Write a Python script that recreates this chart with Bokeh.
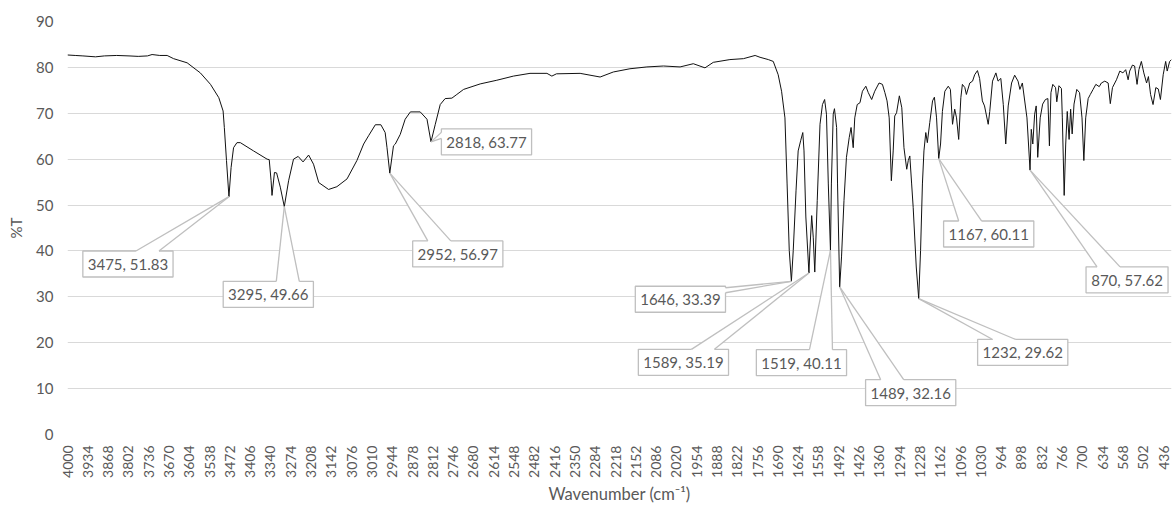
from bokeh.plotting import figure
from bokeh.models import Range1d, FixedTicker
from bokeh.core.properties import value
from bokeh.embed import file_html
from bokeh.resources import INLINE

# ---------------- data ----------------
wavenumber = [4000, 3975, 3950, 3909, 3880, 3840, 3800, 3770, 3740, 3725, 3700, 3676,
              3655, 3611, 3568, 3535, 3508, 3494, 3490, 3483, 3475, 3468, 3460, 3449, 3438,
              3395, 3351, 3344, 3338, 3335, 3327, 3320, 3308, 3295, 3281, 3265, 3250, 3234,
              3216, 3200, 3183, 3151, 3124, 3091, 3059, 3037, 3021, 2999, 2981, 2967, 2961,
              2952, 2940, 2934, 2918, 2902, 2885, 2853, 2831, 2818, 2804, 2788, 2772, 2750,
              2734, 2712, 2658, 2604, 2550, 2496, 2441, 2425, 2410, 2333, 2268, 2225, 2171,
              2116, 2062, 2008, 1965, 1927, 1900, 1846, 1802, 1764, 1748, 1721, 1705, 1689,
              1678, 1667, 1660, 1653, 1646, 1640, 1631, 1624, 1616, 1609, 1605, 1599, 1589,
              1586, 1580, 1575, 1570, 1562, 1553, 1545, 1538, 1532, 1526, 1519, 1516, 1510,
              1506, 1499, 1496, 1489, 1483, 1475, 1467, 1458, 1452, 1445, 1440, 1432, 1423,
              1415, 1404, 1396, 1385, 1375, 1361, 1350, 1342, 1335, 1328, 1321, 1315, 1310,
              1304, 1295, 1287, 1280, 1271, 1266, 1261, 1255, 1250, 1240, 1232, 1226, 1220,
              1215, 1209, 1204, 1196, 1187, 1181, 1174, 1167, 1161, 1155, 1147, 1136, 1129,
              1122, 1115, 1109, 1102, 1095, 1090, 1082, 1077, 1066, 1057, 1050, 1041, 1034,
              1025, 1018, 1006, 1001, 992, 981, 974, 965, 957, 949, 941, 930, 920, 909, 903,
              895, 880, 870, 866, 861, 855, 850, 845, 837, 829, 820, 812, 807, 802, 796, 787,
              783, 776, 768, 765, 759, 754, 749, 743, 738, 733, 727, 718, 709, 701, 695, 689,
              681, 674, 665, 656, 645, 638, 627, 616, 609, 602, 589, 578, 568, 559, 551, 546,
              537, 530, 522, 516, 508, 500, 491, 485, 478, 470, 461, 453, 446, 437, 429, 424,
              416, 410]
transmittance = [82.7, 82.6, 82.5, 82.3, 82.5, 82.6, 82.5, 82.4, 82.5, 82.8, 82.6, 82.6,
                 81.9, 81.0, 78.8, 76.3, 73.4, 70.5, 66.9, 59.7, 51.83, 58.2, 62.5, 63.6, 63.6,
                 61.8, 60.0, 59.9, 55.3, 52.1, 57.1, 57.0, 53.9, 49.66, 55.3, 60.0, 60.6, 59.4,
                 60.9, 58.9, 54.9, 53.4, 54.0, 55.7, 59.7, 63.3, 65.1, 67.5, 67.5, 65.8, 62.5,
                 56.97, 62.9, 63.3, 65.4, 68.7, 70.3, 70.3, 68.7, 63.77, 67.6, 71.9, 73.2, 73.3,
                 74.1, 75.2, 76.4, 77.2, 78.1, 78.7, 78.7, 78.1, 78.6, 78.7, 77.9, 79.0, 79.7,
                 80.1, 80.3, 80.1, 80.8, 79.9, 81.1, 81.7, 81.9, 82.6, 82.2, 81.7, 81.3, 78.4,
                 74.8, 69.0, 54.6, 40.1, 33.39, 40.1, 53.1, 61.8, 64.0, 65.8, 61.8, 47.4, 35.19,
                 40.1, 47.7, 43.0, 35.4, 51.0, 67.6, 71.9, 73.0, 69.8, 54.6, 40.11, 54.6, 69.8,
                 71.0, 66.9, 54.6, 32.16, 38.7, 51.0, 60.4, 64.7, 66.9, 62.5, 69.0, 71.9, 72.3,
                 74.8, 75.9, 74.5, 73.0, 74.8, 76.6, 76.3, 74.5, 72.7, 69.0, 55.3, 61.8, 69.4,
                 70.1, 73.8, 71.2, 62.5, 57.8, 59.7, 60.7, 54.6, 49.5, 36.5, 29.62, 40.1, 54.6,
                 61.8, 65.8, 63.6, 68.0, 72.7, 73.5, 69.0, 60.11, 63.3, 70.4, 74.8, 75.9, 75.2,
                 67.6, 70.9, 69.0, 64.3, 73.4, 76.3, 75.6, 74.1, 76.6, 77.0, 78.4, 79.3, 77.6,
                 72.7, 71.6, 67.6, 70.4, 77.0, 78.8, 77.0, 77.6, 71.9, 63.3, 71.6, 76.6, 78.3, 77.0, 75.2,
                 76.6, 69.0, 57.62, 66.5, 63.3, 69.8, 71.6, 60.4, 69.0, 72.0, 73.0, 73.2, 62.9, 74.5, 76.3, 75.6,
                 72.5, 76.0, 75.4, 69.0, 52.1, 63.3, 70.4, 64.3, 70.9, 65.5, 72.0, 75.2, 74.5, 69.0, 59.7, 69.0,
                 73.2, 74.1, 75.2, 76.3, 75.8, 76.6, 77.0, 76.6, 72.1, 75.6, 77.3, 79.2, 78.8, 79.5, 77.3, 79.2,
                 80.5, 80.3, 76.3, 79.5, 81.3, 78.8, 76.6, 78.0, 74.1, 71.9, 75.6, 75.3, 73.0, 78.4, 81.3, 79.2,
                 81.3, 81.7]

peak_wn = [3475, 3295, 2952, 2818, 1646, 1589, 1519, 1489, 1232, 1167, 870]
peak_T = [51.83, 49.66, 56.97, 63.77, 33.39, 35.19, 40.11, 32.16, 29.62, 60.11, 57.62]

x_ticks = list(range(4000, 435, -66))
y_ticks = list(range(0, 91, 10))

# ---------------- layout ----------------
W, H = 1172, 506
BL, BR, BT, BB = 67, 1, 21, 71
X0, X1 = 4000, 410
Y0, Y1 = 0, 90
kx = (W - BL - BR) / (X0 - X1)   # px per wavenumber
ky = (H - BT - BB) / (Y1 - Y0)   # px per %T

# callout box centre offsets from the peak, in screen px (right, down)
callout_dx = [-101, -16, 68, 55.5, -111, -125.5, -29, 71, 104, 50, 97]
callout_dy = [67.5, 88, 81, 0, 18, 89.5, 112.5, 106, 54, 75.5, 110]
callout_side = ["top", "top", "top", "left", "right", "top", "top", "top", "top", "top", "top"]

GRID = "#d9d9d9"
TXT = "#595959"
CALL = "#bfbfbf"
FONT = "Lato"

p = figure(width=W, height=H, output_backend="svg", toolbar_location=None,
           x_range=Range1d(X0, X1), y_range=Range1d(Y0, Y1),
           min_border_left=BL, min_border_right=BR, min_border_top=BT, min_border_bottom=BB)
p.outline_line_color = None
p.background_fill_color = "white"
p.border_fill_color = "white"

p.xgrid.grid_line_color = None
p.ygrid.grid_line_color = GRID
p.ygrid.grid_line_width = 1
p.yaxis.ticker = FixedTicker(ticks=y_ticks)
p.xaxis.ticker = FixedTicker(ticks=x_ticks)
p.ygrid.ticker = FixedTicker(ticks=y_ticks)

for ax in (p.xaxis[0], p.yaxis[0]):
    ax.axis_line_color = None
    ax.major_tick_line_color = None
    ax.minor_tick_line_color = None
    ax.major_tick_out = 0
    ax.major_tick_in = 0
    ax.major_label_text_color = TXT
    ax.major_label_text_font = FONT
    ax.axis_label_text_color = TXT
    ax.axis_label_text_font = FONT
    ax.axis_label_text_font_style = "normal"

p.xaxis.major_label_orientation = 3.14159265 / 2
p.xaxis.major_label_text_font_size = "14px"
p.xaxis.major_label_standoff = 11
p.xaxis.axis_label = "Wavenumber (cm\u207b\u00b9)"
p.xaxis.axis_label_text_font_size = "16.5px"
p.xaxis.axis_label_standoff = 3

p.yaxis.major_label_text_font_size = "15px"
p.yaxis.major_label_standoff = 14
p.yaxis.axis_label = "%T"
p.yaxis.axis_label_text_font_size = "15px"
p.yaxis.axis_label_standoff = 8

# spectrum
p.line(wavenumber, transmittance, line_color="#111111", line_width=1)

# callouts
labels = ["%d, %.2f" % (w, t) for w, t in zip(peak_wn, peak_T)]
box_w = [len(s) * 8.2 for s in labels]
box_h = 26
cx, cy, tri_x, tri_y, s_x0, s_y0, s_x1, s_y1 = [], [], [], [], [], [], [], []


def to_data(wc, tc, bx, by):
    return wc - bx / kx, tc - by / ky


for i in range(len(peak_wn)):
    w, t = peak_wn[i], peak_T[i]
    wc, tc = to_data(w, t, callout_dx[i], callout_dy[i])
    cx.append(wc)
    cy.append(tc)
    hw = box_w[i] / 2
    hh = box_h / 2
    side = callout_side[i]
    if side == "top":
        if callout_dx[i] < 0:
            b = [(8, -hh), (31, -hh)]
        else:
            b = [(-30, -hh), (-7, -hh)]
        inner = [(bx, by + 2) for bx, by in b]
    elif side == "right":
        b = [(hw, -11.5), (hw, -6.5)]
        inner = [(bx - 2, by) for bx, by in b]
    else:
        b = [(-hw, -9.5), (-hw, -3.5)]
        inner = [(bx + 2, by) for bx, by in b]
    b1 = to_data(wc, tc, *b[0])
    b2 = to_data(wc, tc, *b[1])
    i1 = to_data(wc, tc, *inner[0])
    i2 = to_data(wc, tc, *inner[1])
    tri_x.append([w, b1[0], i1[0], i2[0], b2[0]])
    tri_y.append([t, b1[1], i1[1], i2[1], b2[1]])
    s_x0 += [w, w]
    s_y0 += [t, t]
    s_x1 += [b1[0], b2[0]]
    s_y1 += [b1[1], b2[1]]

p.rect(cx, cy, width=box_w, height=box_h, width_units="screen", height_units="screen",
       fill_color="white", line_color=CALL, line_width=1.3)
p.patches(tri_x, tri_y, fill_color="white", line_color=None)
p.segment(s_x0, s_y0, s_x1, s_y1, line_color=CALL, line_width=1.3)
p.text(cx, cy, text=labels, text_align="center", text_baseline="middle",
       text_font=value(FONT), text_font_size="15px", text_color=TXT)

open("out.html", "w").write(file_html(p, INLINE))
